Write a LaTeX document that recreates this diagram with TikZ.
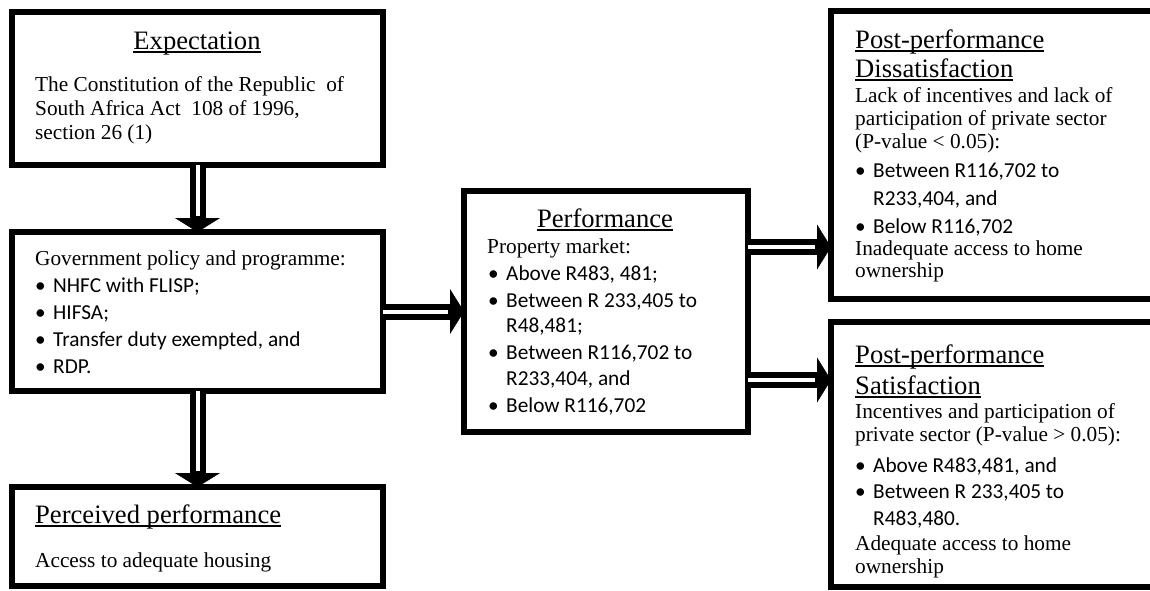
\documentclass[tikz,border=0pt]{standalone}
\usepackage{fontspec}
\setmainfont{Liberation Serif}
\newfontfamily\calfont{Carlito}
\usetikzlibrary{arrows.meta}
\newlength\ulw
\newcommand\myul[1]{\settowidth\ulw{#1}\rlap{\rule[-3.5pt]{\ulw}{1.4pt}}#1}
\newcommand\bul{\makebox[18pt][l]{\textbullet}}
\begin{document}
\begin{tikzpicture}[x=1pt,y=-1pt,
  box/.style={draw, line width=6pt, inner sep=0pt, outer sep=0pt},
  bd/.style={anchor=base west, inner sep=0pt, font=\fontsize{21.3}{24}\selectfont},
  hd/.style={anchor=base west, inner sep=0pt, font=\fontsize{26.6}{28}\selectfont},
  bl/.style={anchor=base west, inner sep=0pt, font=\calfont\fontsize{21.3}{26}\selectfont},
  bigarrow/.style={line width=0.4pt, -{Triangle[length=14pt,width=45pt]},
    preaction={draw, line width=16pt, -, shorten >=13pt},
    postaction={draw, white, line width=4pt, -, shorten >=16pt}}]
\useasboundingbox (0,0) rectangle (1150,590);
\clip (0,0) rectangle (1150,590);
% boxes
\node[box, minimum width=371pt, minimum height=153pt] (exp) at (197.5,88.5) {};
\node[box, minimum width=371pt, minimum height=159pt] (gov) at (197.5,311.5) {};
\node[box, minimum width=371pt, minimum height=99pt] (perc) at (197.5,536.5) {};
\node[box, minimum width=284pt, minimum height=241pt] (perf) at (606,311.5) {};
\node[box, minimum width=339pt, minimum height=288pt] (diss) at (1000.5,155) {};
\node[box, minimum width=339pt, minimum height=265pt] (sat) at (1000.5,454.5) {};
% arrows
\draw[bigarrow] (exp.south) -- (gov.north);
\draw[bigarrow] (gov.south) -- (perc.north);
\draw[bigarrow] (gov.east) -- (perf.west);
\coordinate (p1) at ([yshift=64.5pt]perf.east);
\coordinate (p2) at ([yshift=-68.5pt]perf.east);
\draw[bigarrow] (p1) -- (p1 -| diss.west);
\draw[bigarrow] (p2) -- (p2 -| sat.west);
% Expectation
\node[hd, anchor=base] (eh) at (197,49) {\myul{Expectation}};
\node[bd] (e1) at (35,91) {The Constitution of the Republic\ \ of};
\node[bd] (e2) at (35,115) {South Africa Act\ \ 108 of 1996,};
\node[bd] (e3) at (35,139) {section 26 (1)};
% Government
\node[bd] (g0) at (35,265) {Government policy and programme:};
\node[bl] (g1) at (35,292) {\bul NHFC with FLISP;};
\node[bl] (g2) at (35,319) {\bul HIFSA;};
\node[bl] (g3) at (35,346) {\bul Transfer duty exempted, and};
\node[bl] (g4) at (35,373) {\bul RDP.};
% Perceived
\node[hd] (ph) at (35,523) {\myul{Perceived performance}};
\node[bd] (p0) at (35,567) {Access to adequate housing};
% Performance
\node[hd, anchor=base] (fh) at (605,227) {\myul{Performance}};
\node[bd] (f0) at (487,253) {Property market:};
\node[bl] (f1) at (488,280) {\bul Above R483, 481;};
\node[bl] (f2) at (488,307) {\bul Between R 233,405 to};
\node[bl] (f3) at (506,332) {R48,481;};
\node[bl] (f4) at (488,359) {\bul Between R116,702 to};
\node[bl] (f5) at (506,385) {R233,404, and};
\node[bl] (f6) at (488,412) {\bul Below R116,702};
% Dissatisfaction
\node[hd] (dh1) at (855,48) {\myul{Post-performance}};
\node[hd] (dh2) at (855,77) {\myul{Dissatisfaction}};
\node[bd] (d1) at (855,102) {Lack of incentives and lack of};
\node[bd] (d2) at (855,125) {participation of private sector};
\node[bd] (d3) at (855,148) {(P-value < 0.05):};
\node[bl] (d4) at (855,177) {\bul Between R116,702 to};
\node[bl] (d5) at (873,205) {R233,404, and};
\node[bl] (d6) at (855,233) {\bul Below R116,702};
\node[bd] (d7) at (855,255) {Inadequate access to home};
\node[bd] (d8) at (855,277) {ownership};
% Satisfaction
\node[hd] (sh1) at (855,363) {\myul{Post-performance}};
\node[hd] (sh2) at (855,394) {\myul{Satisfaction}};
\node[bd] (s1) at (855,418) {Incentives and participation of};
\node[bd] (s2) at (855,441) {private sector (P-value > 0.05):};
\node[bl] (s3) at (855,472) {\bul Above R483,481, and};
\node[bl] (s4) at (855,498) {\bul Between R 233,405 to};
\node[bl] (s5) at (873,525) {R483,480.};
\node[bd] (s6) at (855,550) {Adequate access to home};
\node[bd] (s7) at (855,573) {ownership};
\end{tikzpicture}
\end{document}
